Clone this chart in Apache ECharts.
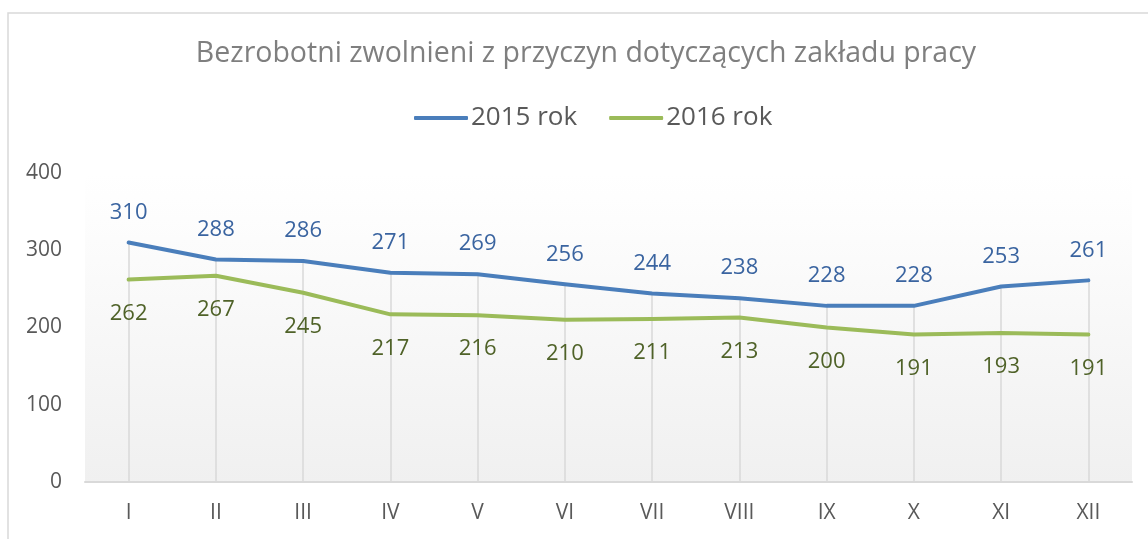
<!DOCTYPE html>
<html>
<head>
<meta charset="utf-8">
<script src="https://cdn.jsdelivr.net/npm/echarts@6/dist/echarts.min.js"></script>
<style>
  html, body { margin: 0; padding: 0; background: #fff; }
  #chartBox { width: 1148px; height: 539px; }
</style>
</head>
<body>
<div id="chartBox"></div>
<script>
const titleText = 'Bezrobotni zwolnieni z przyczyn dotyczących zakładu pracy'
const months = ['I', 'II', 'III', 'IV', 'V', 'VI', 'VII', 'VIII', 'IX', 'X', 'XI', 'XII']
const seriesNames = ['2015 rok', '2016 rok']
const values2015 = [310, 288, 286, 271, 269, 256, 244, 238, 228, 228, 253, 261]
const values2016 = [262, 267, 245, 217, 216, 210, 211, 213, 200, 191, 193, 191]

const font = '"Open Sans", "Noto Sans", sans-serif'

// drop lines from the axis up to the higher of the two points
const dropLines = months.map((m, i) => [
  { coord: [m, 0] },
  { coord: [m, Math.max(values2015[i], values2016[i])] }
])

const chart = echarts.init(document.getElementById('chartBox'))
chart.setOption({
  animation: false,
  textStyle: { fontFamily: font },
  graphic: [{
    type: 'rect',
    shape: { x: 8, y: 13, width: 1300, height: 700 },
    style: { fill: 'none', stroke: '#d9d9d9', lineWidth: 1.5 },
    silent: true
  }],
  title: {
    text: titleText,
    left: 581,
    textAlign: 'center',
    top: 34,
    textStyle: { fontFamily: font, fontSize: 28.5, fontWeight: 'normal', color: '#7f7f7f' }
  },
  legend: {
    data: seriesNames,
    left: 409,
    top: 100,
    icon: 'roundRect',
    itemWidth: 54,
    itemHeight: 4,
    itemGap: 32,
    textStyle: { fontFamily: font, fontSize: 26, color: '#595959', padding: [0, 0, 0, -2] }
  },
  grid: {
    left: 85,
    right: 16,
    top: 173,
    bottom: 57,
    show: true,
    borderWidth: 0,
    backgroundColor: new echarts.graphic.LinearGradient(0, 0, 0, 1, [
      { offset: 0, color: '#ffffff' },
      { offset: 0.15, color: '#fdfdfd' },
      { offset: 1, color: '#f0f0f0' }
    ])
  },
  xAxis: {
    type: 'category',
    data: months,
    boundaryGap: true,
    axisLine: { show: true, lineStyle: { color: '#d9d9d9', width: 2 } },
    axisTick: { show: false },
    splitLine: { show: false },
    axisLabel: { color: '#595959', fontSize: 21, margin: 21, fontFamily: font }
  },
  yAxis: {
    type: 'value',
    min: 0,
    max: 400,
    interval: 100,
    axisLine: { show: false },
    axisTick: { show: false },
    splitLine: { show: false },
    axisLabel: { color: '#595959', fontSize: 21, margin: 23, fontFamily: font }
  },
  series: [
    {
      name: seriesNames[0],
      type: 'line',
      data: values2015,
      symbol: 'circle',
      symbolSize: 0,
      showSymbol: true,
      z: 3,
      lineStyle: { color: '#4a7ebb', width: 4, cap: 'round', join: 'round' },
      itemStyle: { color: '#4a7ebb' },
      label: {
        show: true,
        position: 'top',
        distance: 19,
        color: '#3a64a0',
        fontSize: 22,
        fontFamily: font
      },
      markLine: {
        silent: true,
        symbol: ['none', 'none'],
        z: 1,
        label: { show: false },
        lineStyle: { color: '#d9d9d9', width: 1.5, type: 'solid' },
        emphasis: { disabled: true },
        data: dropLines
      }
    },
    {
      name: seriesNames[1],
      type: 'line',
      data: values2016,
      symbol: 'circle',
      symbolSize: 0,
      showSymbol: true,
      z: 3,
      lineStyle: { color: '#9bbb59', width: 4, cap: 'round', join: 'round' },
      itemStyle: { color: '#9bbb59' },
      label: {
        show: true,
        position: 'bottom',
        distance: 23,
        color: '#4f6228',
        fontSize: 22,
        fontFamily: font
      }
    }
  ]
})
window.addEventListener('resize', () => {
  chart.resize()
})
</script>
</body>
</html>
